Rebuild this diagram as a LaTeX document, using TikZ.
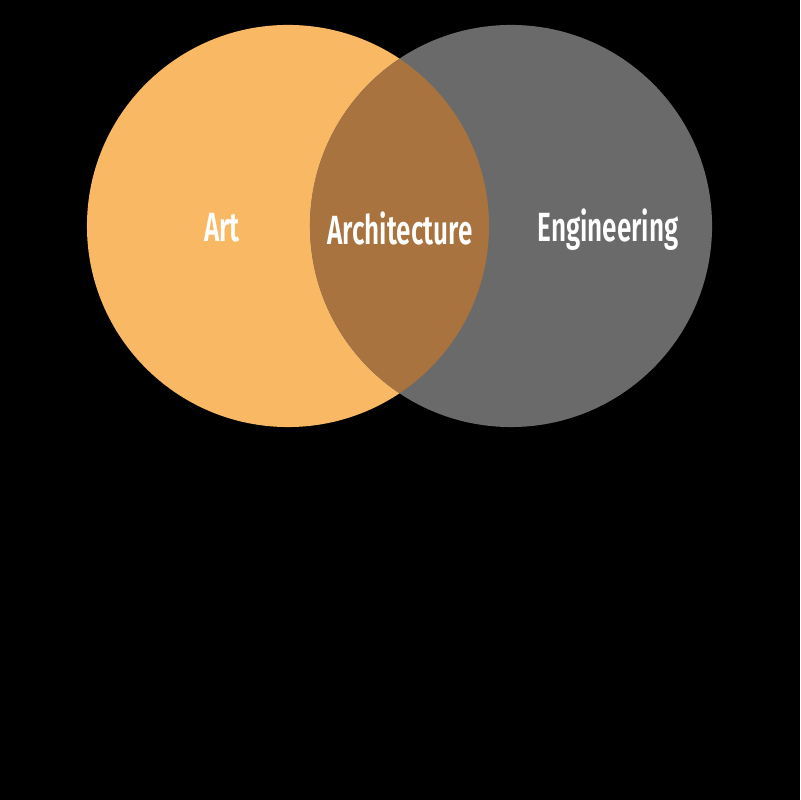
\documentclass[tikz,border=0pt]{standalone}
\usepackage{fontspec}
\usepackage{tikz}
\usetikzlibrary{positioning}
\newfontfamily\vennfont[FakeStretch=0.64]{Fira Sans SemiBold}
\definecolor{artorange}{HTML}{F9B964}
\definecolor{enggray}{HTML}{6A6A6A}
\definecolor{archbrown}{HTML}{A8733E}

\begin{document}
\begin{tikzpicture}[
            x = 0.025cm, y = 0.025cm,
            every node/.append style = {inner sep = 0pt},
            setcircle/.style = {circle, minimum size = 10.05cm},
            setlabel/.style = {text = white, font = \vennfont\fontsize{29}{30}\selectfont}]
        \fill[black] (0,0) rectangle (800,800);
        \useasboundingbox (0,0) rectangle (800,800);
        \node[setcircle, fill = artorange] (art) at (288,574) {};
        \node[setcircle, fill = enggray] (eng) at (511,574) {};
        \begin{scope}
                \clip (art.center) circle[radius = 201];
                \fill[archbrown] (eng.center) circle[radius = 201];
        \end{scope}
        \node[setlabel] (nart) at (222,572) {Art};
        \node[setlabel] (narch) at (400,572) {Architecture};
        \node[setlabel] (neng) at (608,570) {Engineering};
        \end{tikzpicture}
\end{document}
